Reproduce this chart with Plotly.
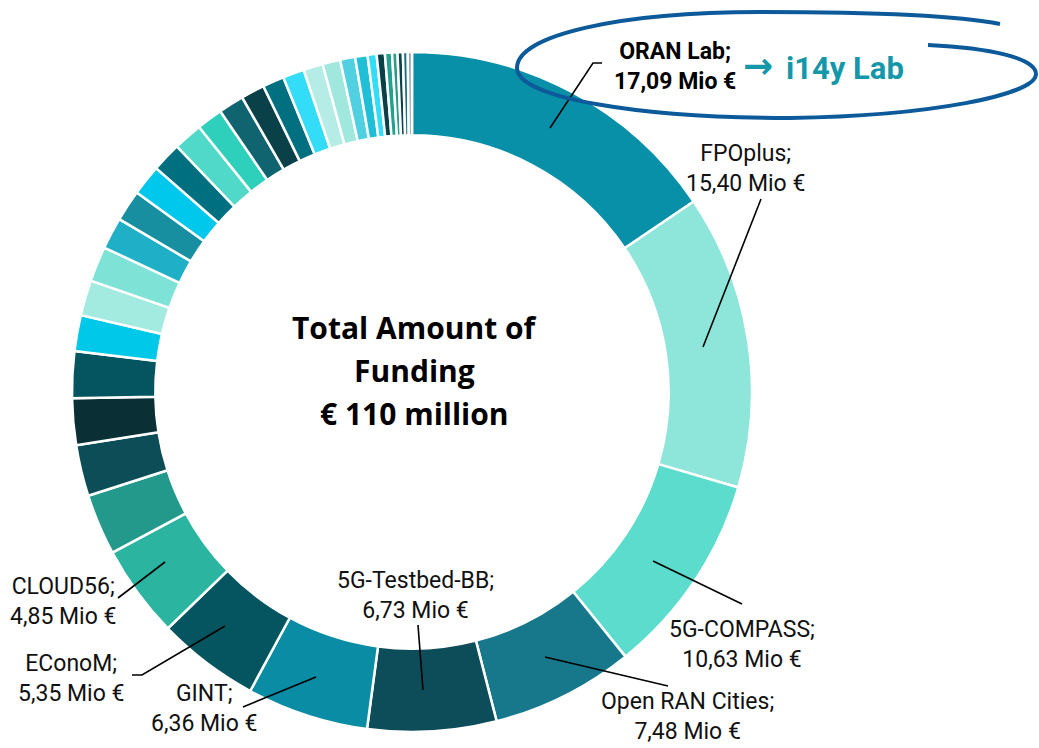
import plotly.graph_objects as go

# ---------------- data ----------------
projects = ["ORAN Lab", "FPOplus", "5G-COMPASS", "Open RAN Cities", "5G-Testbed-BB",
            "GINT", "EConoM", "CLOUD56"] + [f"Projekt {i}" for i in range(9, 37)]
funding = [17.09, 15.40, 10.63, 7.48, 6.73, 6.36, 5.35, 4.85,
           3.19, 2.67, 2.44, 2.43, 1.88, 1.85, 1.84, 1.66, 1.64, 1.60,
           1.55, 1.52, 1.36, 1.33, 1.24, 1.12, 1.12, 1.02, 0.93, 0.78,
           0.65, 0.47, 0.43, 0.37, 0.28, 0.28, 0.25, 0.22]
colors = ["#0790a8", "#8ee5da", "#5cdccc", "#16788a", "#0d4d5a", "#0a8ca4", "#04555f", "#2bb5a0",
          "#22998a", "#0d4d57", "#0a3035", "#055560", "#00c8e8", "#a3ebe0", "#7ee3d6", "#1fb0c8",
          "#188fa0", "#00c8ec", "#007080", "#50d8c8", "#2ecfbb", "#0f6470", "#0a4048", "#007080",
          "#33ddf8", "#b5ece6", "#a0e8dd", "#50d0e0", "#20bfd8", "#33ddf8", "#0a4048", "#22a090",
          "#2a9a88", "#0a4048", "#1a7080", "#8aa0a8"]
value_labels = ["17,09 Mio €", "15,40 Mio €", "10,63 Mio €", "7,48 Mio €", "6,73 Mio €",
                "6,36 Mio €", "5,35 Mio €", "4,85 Mio €"]
center_lines = ["Total Amount of", "Funding", "€ 110 million"]

W, H = 1039, 748
LBL_FONT = "Roboto, Liberation Sans, sans-serif"

fig = go.Figure()
fig.add_trace(go.Pie(
    labels=projects, values=funding, sort=False, direction="clockwise", rotation=0,
    hole=0.755, textinfo="none", hoverinfo="label+value",
    marker=dict(colors=colors, line=dict(color="white", width=2.5)),
    domain=dict(x=[72 / W, 752 / W], y=[1 - 732 / H, 1 - 52 / H]),
    showlegend=False,
))

# hidden pixel-coordinate axes for decorations
fig.update_xaxes(range=[0, W], visible=False, fixedrange=True)
fig.update_yaxes(range=[H, 0], visible=False, fixedrange=True)

# label positions (pixel): (x_center, y_center)
label_pos = {
    1: (745, 168), 2: (742, 644), 3: (687, 716), 4: (415, 595),
    5: (204, 708), 6: (71, 678), 7: (63, 601),
}
for i, (x, y) in label_pos.items():
    fig.add_annotation(x=x, y=y, xref="x", yref="y", showarrow=False,
                       text=f"{projects[i]};<br>{value_labels[i]}",
                       font=dict(family=LBL_FONT, size=23, color="#111111"),
                       xanchor="center", yanchor="middle", align="center")

# ORAN Lab (bold)
fig.add_annotation(x=675, y=66, xref="x", yref="y", showarrow=False,
                   text=f"<b>{projects[0]};</b><br><b>{value_labels[0]}</b>",
                   font=dict(family=LBL_FONT, size=23, color="#000000"),
                   xanchor="center", yanchor="middle", align="center")
fig.add_annotation(x=741, y=65, xref="x", yref="y", showarrow=False,
                   text="<b>→</b>",
                   font=dict(family="DejaVu Sans, sans-serif", size=36, color="#1597aa"),
                   xanchor="left", yanchor="middle")
fig.add_annotation(x=784, y=68, xref="x", yref="y", showarrow=False,
                   text="<b>i14y Lab</b>",
                   font=dict(family=LBL_FONT, size=31, color="#1597aa"),
                   xanchor="left", yanchor="middle")

# center text
for txt, y in zip(center_lines, [327, 370, 413]):
    fig.add_annotation(x=414, y=y, xref="x", yref="y", showarrow=False,
                       text=f"<b>{txt}</b>",
                       font=dict(family="Open Sans, sans-serif", size=30, color="#000000"),
                       xanchor="center", yanchor="middle")

# leader lines
leaders = [
    "M 550 128 L 593 63 L 602 63",
    "M 703 347 L 761 199",
    "M 653 561 L 742 604",
    "M 545 657 L 668 686",
    "M 418 625 L 423 690",
    "M 243 707 L 316 677",
    "M 132 675 L 142 675 L 225 626",
    "M 118 598 L 165 562",
]
for p in leaders:
    fig.add_shape(type="path", path=p, xref="x", yref="y",
                  line=dict(color="#000000", width=1.6))

# hand-drawn ellipse
ellipse = ("M 928 45 C 990 48, 1036 58, 1036 74 "
           "C 1036 95, 930 116, 790 118 "
           "C 640 118, 517 98, 517 68 "
           "C 517 35, 620 12, 760 12 "
           "C 880 12, 960 16, 1000 24")
fig.add_shape(type="path", path=ellipse, xref="x", yref="y",
              line=dict(color="#0d5a9b", width=4))

fig.update_layout(width=W, height=H, margin=dict(l=0, r=0, t=0, b=0),
                  paper_bgcolor="white", plot_bgcolor="white")
fig.write_html("out.html", config={"displayModeBar": False},
               post_script="document.body.style.margin='0';document.body.style.overflow='hidden';")
